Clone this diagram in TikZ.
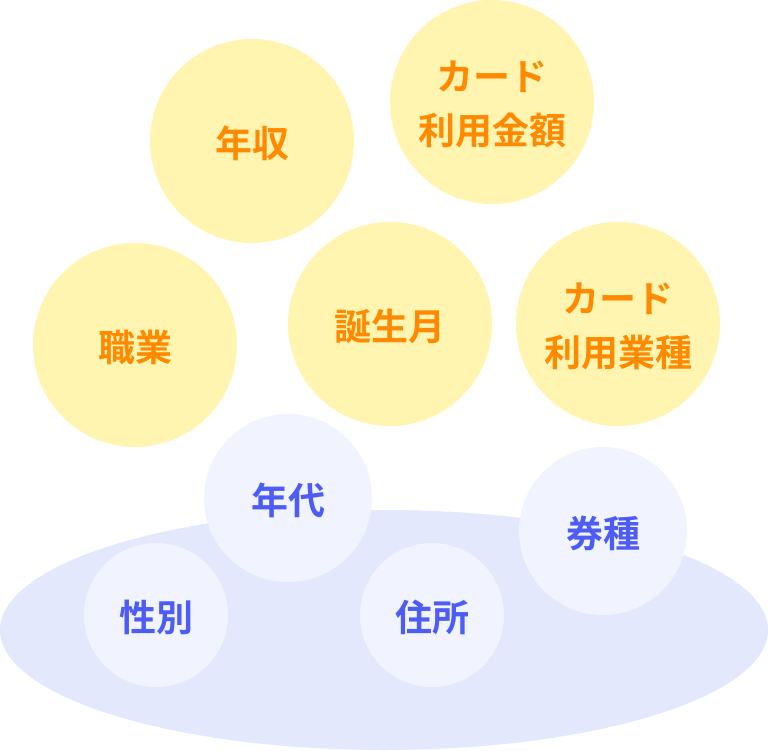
\documentclass[tikz,border=0pt]{standalone}
\usepackage{fontspec}
\setmainfont{Liberation Sans}
\newfontfamily\cjk{Noto Sans CJK JP}[BoldFont={Noto Sans CJK JP Bold}]
\definecolor{yel}{HTML}{FFF5B1}
\definecolor{org}{HTML}{FF8A00}
\definecolor{pale}{HTML}{F1F4FE}
\definecolor{ell}{HTML}{E3E8FC}
\definecolor{blu}{HTML}{4D5CF5}
\newcommand{\lbl}[1]{\raisebox{-2.6pt}[\height][\depth]{#1}}
\tikzset{x=1pt,y=-1pt,
 yc/.style={circle,fill=yel,text=org,inner sep=0pt,minimum size=204pt,align=center,font=\cjk\bfseries\fontsize{37}{54}\selectfont},
 bc/.style={circle,fill=pale,text=blu,inner sep=0pt,font=\cjk\bfseries\fontsize{37}{54}\selectfont},
 big/.style={minimum size=168pt},
 small/.style={minimum size=144pt}}
\begin{document}
\begin{tikzpicture}
\useasboundingbox (0,0) rectangle (768,750);
\fill[ell] (384,630) ellipse [x radius=384,y radius=120];
\node[yc] (a) at (252,141) {\lbl{年収}};
\node[yc] (b) at (492,102) {\lbl{カード}\\\lbl{利用金額}};
\node[yc] (c) at (135,345) {\lbl{職業}};
\node[yc] (d) at (390,324) {\lbl{誕生月}};
\node[yc] (e) at (618,324) {\lbl{カード}\\\lbl{利用業種}};
\node[bc,big] (f) at (288,498) {\lbl{年代}};
\node[bc,big] (g) at (603,531) {\lbl{券種}};
\node[bc,small] (h) at (156,615) {\lbl{性別}};
\node[bc,small] (i) at (432,615) {\lbl{住所}};
\end{tikzpicture}
\end{document}
